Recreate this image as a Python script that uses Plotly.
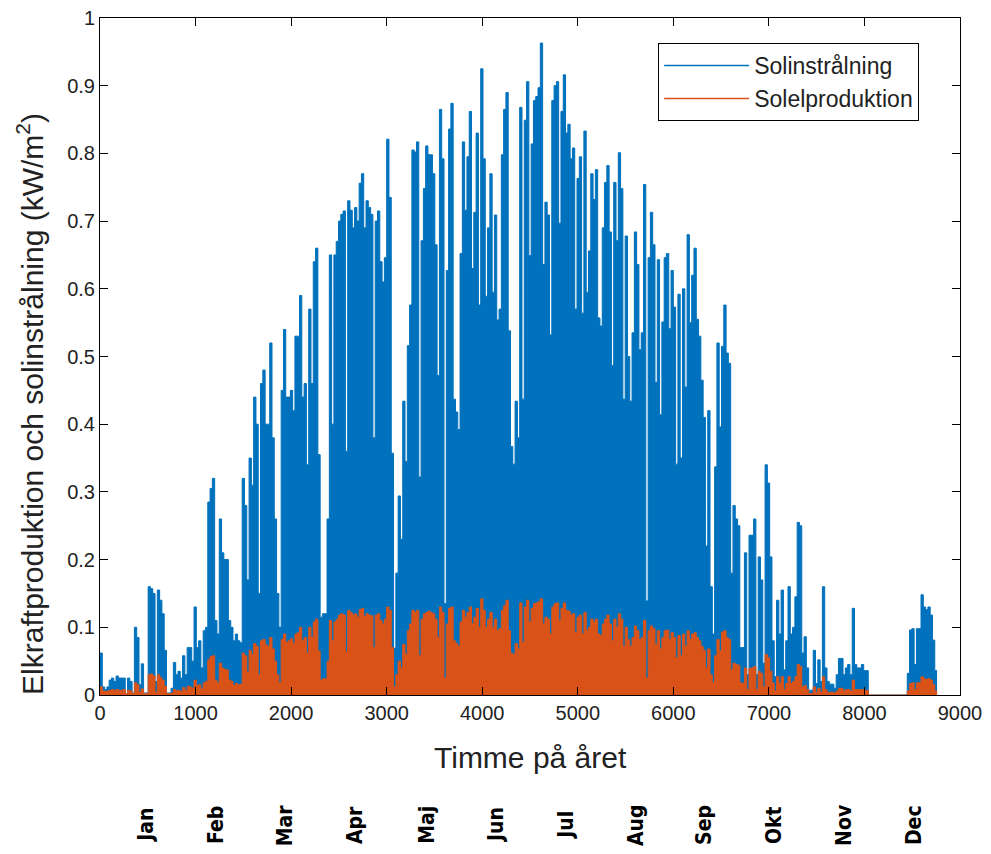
import plotly.graph_objects as go

# ---- Data: daily peak values (kW/m2), day 0..364 ----
# Solinstrålning (irradiance)
irr_jan_feb = [0.062, 0.012, 0.008, 0.012, 0.022, 0.025, 0.020, 0.028, 0.025, 0.025,
               0.025, 0.002, 0.025, 0.020, 0.003, 0.100, 0.085, 0.015, 0.046, 0.003,
               0.003, 0.160, 0.157, 0.150, 0.020, 0.155, 0.140, 0.120, 0.066, 0.003,
               0.003, 0.010, 0.048, 0.030, 0.035, 0.025, 0.058, 0.030, 0.070, 0.070,
               0.050, 0.130, 0.070, 0.080, 0.040, 0.095, 0.100, 0.285, 0.305, 0.320,
               0.110, 0.090, 0.260, 0.210, 0.200, 0.200, 0.110, 0.100, 0.080, 0.090,
               0.080]
irr_mar_apr = [0.077, 0.320, 0.280, 0.170, 0.350, 0.310, 0.440, 0.400, 0.150, 0.460,
               0.480, 0.400, 0.400, 0.520, 0.380, 0.260, 0.150, 0.100, 0.450, 0.540,
               0.440, 0.440, 0.450, 0.420, 0.530, 0.530, 0.590, 0.440, 0.460, 0.340,
               0.570, 0.460, 0.640, 0.660, 0.355, 0.115, 0.120, 0.120, 0.260, 0.650,
               0.400, 0.650, 0.670, 0.700, 0.710, 0.715, 0.360, 0.730, 0.716, 0.690,
               0.720, 0.700, 0.756, 0.770, 0.690, 0.730, 0.720, 0.710, 0.380, 0.700,
               0.715, 0.640, 0.610]
irr_may_jul = [0.646, 0.821, 0.735, 0.357, 0.069, 0.180, 0.294, 0.230, 0.434, 0.345,
               0.516, 0.576, 0.805, 0.802, 0.817, 0.322, 0.671, 0.748, 0.811, 0.798,
               0.798, 0.770, 0.665, 0.472, 0.865, 0.792, 0.135, 0.627, 0.836, 0.874,
               0.437, 0.418, 0.392, 0.652, 0.817, 0.716, 0.795, 0.862, 0.630, 0.713,
               0.830, 0.576, 0.925, 0.792, 0.589, 0.690, 0.770, 0.595, 0.709, 0.554,
               0.570, 0.798, 0.865, 0.890, 0.538, 0.367, 0.341, 0.434, 0.380, 0.868,
               0.437, 0.849, 0.906, 0.649, 0.814, 0.878]
irr_jul_sep = [0.884, 0.897, 0.963, 0.636, 0.728, 0.709, 0.532, 0.878, 0.900, 0.906,
               0.697, 0.862, 0.916, 0.830, 0.843, 0.792, 0.808, 0.570, 0.763, 0.795,
               0.564, 0.833, 0.595, 0.656, 0.770, 0.732, 0.776, 0.557, 0.545, 0.690,
               0.757, 0.782, 0.684, 0.487, 0.757, 0.671, 0.801, 0.748, 0.437, 0.678,
               0.500, 0.434, 0.535, 0.684, 0.636, 0.510, 0.535, 0.754, 0.139, 0.646,
               0.713, 0.665, 0.462, 0.643, 0.414, 0.551, 0.646, 0.652, 0.541, 0.627,
               0.573, 0.341, 0.592]
irr_sep_nov = [0.350, 0.600, 0.455, 0.680, 0.550, 0.620, 0.660, 0.555, 0.530, 0.465,
               0.410, 0.220, 0.420, 0.160, 0.090, 0.337, 0.520, 0.396, 0.515, 0.576,
               0.505, 0.490, 0.180, 0.280, 0.260, 0.250, 0.070, 0.070, 0.210, 0.030,
               0.236, 0.236, 0.260, 0.030, 0.204, 0.170, 0.047, 0.340, 0.313, 0.204,
               0.080, 0.027, 0.140, 0.090, 0.155, 0.037, 0.080, 0.160, 0.090, 0.100,
               0.145, 0.255, 0.250, 0.062, 0.086, 0.040, 0.007, 0.007, 0.066, 0.017,
               0.052, 0.020, 0.160]
irr_nov_dec = [0.040, 0.020, 0.016, 0.016, 0.010, 0.030, 0.054, 0.054, 0.030, 0.040,
               0.045, 0.030, 0.128, 0.045, 0.040, 0.040, 0.045, 0.036, 0.036,
               0, 0, 0, 0, 0, 0, 0, 0, 0, 0, 0, 0, 0, 0, 0, 0, 0,
               0.032, 0.096, 0.098, 0.045, 0.098, 0.098, 0.148, 0.130, 0.126, 0.130,
               0.118, 0.081, 0.036]

# Solelproduktion (electricity production)
prod_jan_feb = [0.012, 0.006, 0.005, 0.006, 0.007, 0.008, 0.007, 0.008, 0.007, 0.007,
                0.008, 0.002, 0.007, 0.006, 0.002, 0.018, 0.015, 0.004, 0.009, 0.002,
                0.002, 0.030, 0.031, 0.028, 0.004, 0.030, 0.026, 0.022, 0.013, 0.002,
                0.002, 0.003, 0.008, 0.006, 0.007, 0.005, 0.011, 0.007, 0.013, 0.012,
                0.010, 0.022, 0.014, 0.015, 0.009, 0.018, 0.020, 0.052, 0.057, 0.058,
                0.022, 0.018, 0.047, 0.040, 0.038, 0.037, 0.022, 0.020, 0.014, 0.017,
                0.015]
prod_mar_apr = [0.016, 0.062, 0.058, 0.034, 0.066, 0.060, 0.076, 0.072, 0.030, 0.080,
                0.082, 0.074, 0.072, 0.085, 0.068, 0.050, 0.030, 0.018, 0.082, 0.090,
                0.078, 0.080, 0.083, 0.076, 0.090, 0.092, 0.100, 0.080, 0.085, 0.062,
                0.100, 0.085, 0.108, 0.112, 0.065, 0.022, 0.024, 0.024, 0.050, 0.110,
                0.080, 0.108, 0.112, 0.118, 0.120, 0.118, 0.064, 0.125, 0.122, 0.118,
                0.120, 0.115, 0.126, 0.128, 0.116, 0.120, 0.118, 0.117, 0.070, 0.118,
                0.120, 0.110, 0.105]
prod_may_jul = [0.112, 0.130, 0.125, 0.070, 0.012, 0.030, 0.050, 0.040, 0.075, 0.060,
                0.095, 0.105, 0.125, 0.122, 0.125, 0.058, 0.112, 0.120, 0.122, 0.124,
                0.122, 0.120, 0.112, 0.085, 0.130, 0.122, 0.025, 0.105, 0.128, 0.130,
                0.080, 0.076, 0.072, 0.108, 0.125, 0.115, 0.122, 0.130, 0.105, 0.115,
                0.128, 0.100, 0.142, 0.125, 0.100, 0.112, 0.122, 0.100, 0.112, 0.095,
                0.098, 0.125, 0.132, 0.140, 0.095, 0.062, 0.060, 0.076, 0.068, 0.136,
                0.078, 0.130, 0.140, 0.108, 0.128, 0.135]
prod_jul_sep = [0.136, 0.138, 0.142, 0.105, 0.115, 0.112, 0.090, 0.130, 0.135, 0.136,
                0.110, 0.128, 0.136, 0.125, 0.124, 0.118, 0.120, 0.092, 0.115, 0.118,
                0.090, 0.122, 0.095, 0.100, 0.112, 0.108, 0.112, 0.090, 0.088, 0.105,
                0.112, 0.118, 0.105, 0.080, 0.112, 0.100, 0.120, 0.112, 0.072, 0.100,
                0.082, 0.072, 0.085, 0.102, 0.095, 0.082, 0.085, 0.110, 0.025, 0.095,
                0.102, 0.098, 0.075, 0.095, 0.068, 0.085, 0.095, 0.096, 0.082, 0.092,
                0.085, 0.055, 0.088]
prod_sep_nov = [0.058, 0.090, 0.072, 0.095, 0.082, 0.090, 0.092, 0.085, 0.080, 0.072,
                0.066, 0.040, 0.068, 0.030, 0.018, 0.058, 0.082, 0.065, 0.093, 0.095,
                0.085, 0.082, 0.037, 0.047, 0.045, 0.044, 0.018, 0.017, 0.040, 0.008,
                0.039, 0.040, 0.042, 0.008, 0.035, 0.032, 0.012, 0.060, 0.055, 0.035,
                0.018, 0.006, 0.027, 0.017, 0.027, 0.008, 0.017, 0.027, 0.017, 0.020,
                0.027, 0.045, 0.042, 0.012, 0.014, 0.008, 0.002, 0.002, 0.012, 0.004,
                0.010, 0.004, 0.027]
prod_nov_dec = [0.008, 0.004, 0.004, 0.004, 0.003, 0.006, 0.010, 0.010, 0.006, 0.008,
                0.008, 0.006, 0.022, 0.008, 0.008, 0.008, 0.008, 0.007, 0.007,
                0, 0, 0, 0, 0, 0, 0, 0, 0, 0, 0, 0, 0, 0, 0, 0, 0,
                0.006, 0.017, 0.018, 0.008, 0.018, 0.018, 0.027, 0.024, 0.023, 0.024,
                0.022, 0.015, 0.006]

months = ["Jan", "Feb", "Mar", "Apr", "Maj", "Jun", "Jul", "Aug", "Sep", "Okt", "Nov", "Dec"]
month_label_hours = [480, 1215, 1940, 2670, 3420, 4145, 4875, 5610, 6320, 7055, 7785, 8520]

irradiance = irr_jan_feb + irr_mar_apr + irr_may_jul + irr_jul_sep + irr_sep_nov + irr_nov_dec
production = prod_jan_feb + prod_mar_apr + prod_may_jul + prod_jul_sep + prod_sep_nov + prod_nov_dec

n_days = len(irradiance)
hours = [d * 24 for d in range(n_days)] + [n_days * 24]
irr_y = irradiance + [irradiance[-1]]
prod_y = production + [production[-1]]

BLUE = "#0072BD"
ORANGE = "#D95319"
FONT = "Liberation Sans, Arial, Helvetica, sans-serif"
TXT = "#222222"

fig = go.Figure()
fig.add_trace(go.Scatter(x=hours, y=irr_y, mode="lines", line=dict(color=BLUE, width=1, shape="hv"),
                         fill="tozeroy", fillcolor=BLUE, showlegend=False, hoverinfo="skip"))
fig.add_trace(go.Scatter(x=hours, y=prod_y, mode="lines", line=dict(color=ORANGE, width=1, shape="hv"),
                         fill="tozeroy", fillcolor=ORANGE, showlegend=False, hoverinfo="skip"))
# legend entries (line style as in the original)
fig.add_trace(go.Scatter(x=[None], y=[None], mode="lines", line=dict(color=BLUE, width=1.5),
                         name="Solinstrålning"))
fig.add_trace(go.Scatter(x=[None], y=[None], mode="lines", line=dict(color=ORANGE, width=1.5),
                         name="Solelproduktion"))

axis_common = dict(showline=True, linecolor="black", linewidth=1, mirror="ticks",
                   ticks="inside", ticklen=8, tickcolor="black", showgrid=False, zeroline=False,
                   automargin=False, ticklabeloverflow="allow",
                   tickfont=dict(family=FONT, size=20, color=TXT))

fig.update_xaxes(range=[0, 9000], tickvals=list(range(0, 9001, 1000)), **axis_common)
fig.update_yaxes(range=[0, 1], tickvals=[i / 10 for i in range(11)],
                 ticktext=["0", "0.1", "0.2", "0.3", "0.4", "0.5", "0.6", "0.7", "0.8", "0.9", "1"],
                 **axis_common)

annotations = [
    dict(text="Timme på året", xref="paper", yref="paper", x=0.5, y=-0.0916,
         showarrow=False, font=dict(family=FONT, size=30, color=TXT), yanchor="middle"),
    dict(text="Elkraftproduktion och solinstrålning (kW/m<sup>2</sup>)", xref="paper", yref="paper",
         x=-0.0814, y=0.43, textangle=-90, showarrow=False,
         font=dict(family=FONT, size=30, color=TXT), xanchor="center", yanchor="middle"),
]
for m, h in zip(months, month_label_hours):
    annotations.append(dict(text="<b>" + m + "</b>", xref="x", yref="paper", x=h, y=-0.192,
                            textangle=-90, showarrow=False, xanchor="center", yanchor="middle",
                            font=dict(family="Liberation Sans Narrow, DejaVu Sans Condensed, sans-serif",
                                      size=21, color="black")))

# the page body adds an 8 px offset, so the figure is shrunk by that amount
fig.update_layout(
    width=983, height=846,
    margin=dict(l=92, r=31, t=10, b=159),
    paper_bgcolor="white", plot_bgcolor="white",
    annotations=annotations,
    legend=dict(x=0.649, y=0.963, xanchor="left", yanchor="top", bgcolor="white",
                bordercolor="black", borderwidth=1, itemwidth=85,
                font=dict(family=FONT, size=23, color=TXT)),
)

fig.write_html("out.html")
